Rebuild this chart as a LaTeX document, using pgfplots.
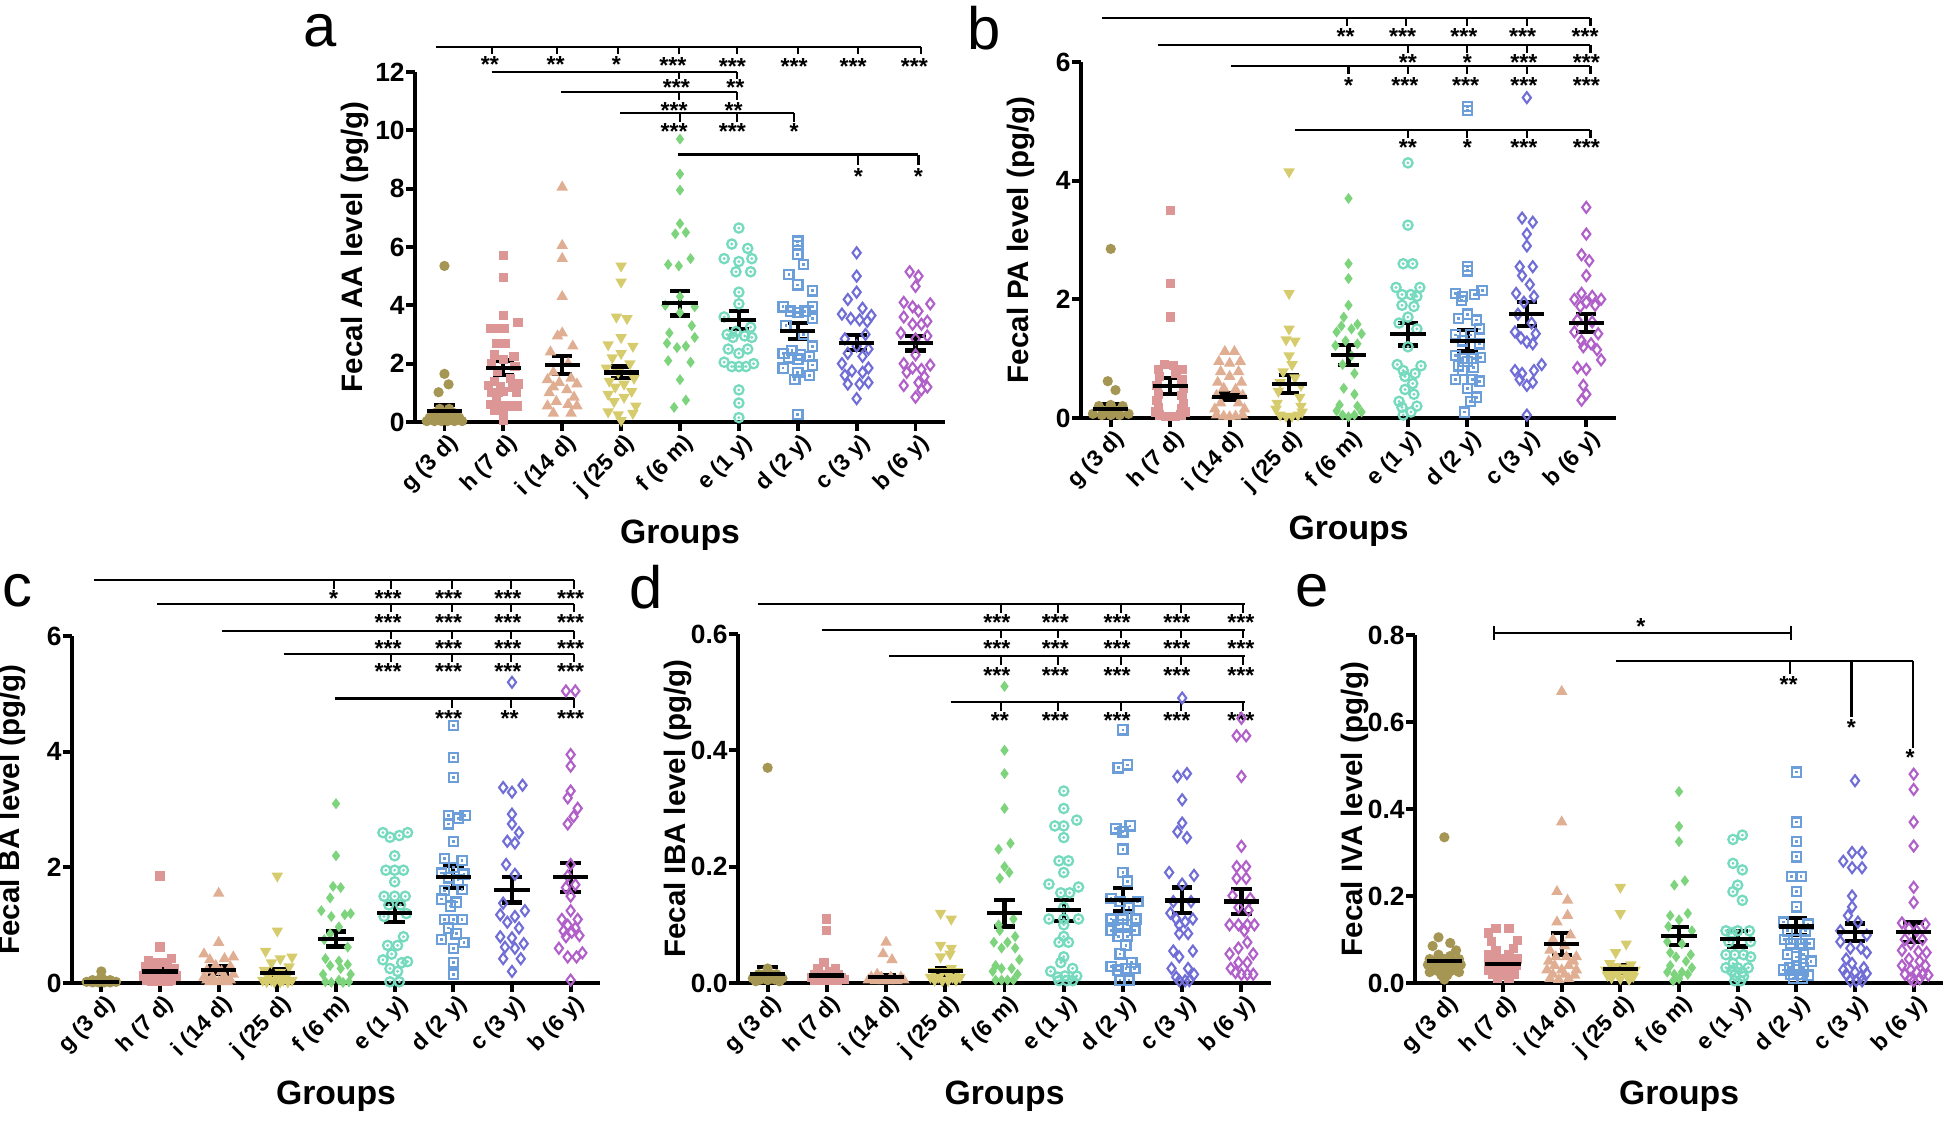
\documentclass[border=0pt]{standalone}
\usepackage{fontspec}
\setmainfont{Liberation Sans}
\usepackage{pgfplots}
\pgfplotsset{compat=1.18}
\definecolor{cg}{RGB}{166,150,84}
\definecolor{ch}{RGB}{220,150,150}
\definecolor{ci}{RGB}{224,174,146}
\definecolor{cj}{RGB}{214,204,110}
\definecolor{cf}{RGB}{125,212,125}
\definecolor{ce}{RGB}{118,218,190}
\definecolor{cd}{RGB}{108,158,218}
\definecolor{cc}{RGB}{112,110,214}
\definecolor{cb}{RGB}{176,96,200}
\pgfdeclareplotmark{odot}{%
  \pgfpathcircle{\pgfpointorigin}{0.8\pgfplotmarksize}\pgfusepathqstroke
  \pgfpathcircle{\pgfpointorigin}{0.28\pgfplotmarksize}\pgfusepathqfill}
\pgfdeclareplotmark{osq}{%
  \pgfpathrectangle{\pgfpoint{-0.85\pgfplotmarksize}{-0.85\pgfplotmarksize}}{\pgfpoint{1.7\pgfplotmarksize}{1.7\pgfplotmarksize}}\pgfusepathqstroke
  \pgfpathrectangle{\pgfpoint{-0.25\pgfplotmarksize}{-0.25\pgfplotmarksize}}{\pgfpoint{0.5\pgfplotmarksize}{0.5\pgfplotmarksize}}\pgfusepathqfill}
\pgfplotsset{
  panel/.style={
    scale only axis, width=5.3cm, height=3.5cm,
    xmin=-0.5, xmax=8.5, ymin=0,
    axis x line*=bottom, axis y line*=left,
    axis line style={line width=1.2pt},
    tick align=outside, major tick length=0.9mm,
    tick style={line width=1.1pt, black},
    xtick={0,...,8},
    xticklabels={g (3 d), h (7 d), i (14 d), j (25 d), f (6 m), e (1 y), d (2 y), c (3 y), b (6 y)},
    x tick label style={rotate=45, anchor=east, xshift=0.5mm, yshift=-1.35mm, font=\bfseries\fontsize{6.5}{7}\selectfont, inner sep=1pt},
    y tick label style={xshift=1.1mm, font=\bfseries\fontsize{7.5}{8}\selectfont},
    /pgf/number format/assume math mode=true,
    clip=false,
    xlabel={Groups},
    every axis x label/.style={at={(axis description cs:0.5,0)}, anchor=center, yshift=-11.3mm, font=\bfseries\fontsize{9.6}{11}\selectfont},
    every axis y label/.style={at={(axis description cs:0,0.5)}, xshift=-6.0mm, rotate=90, anchor=center, font=\bfseries\fontsize{8.4}{9}\selectfont},
  },
  gA/.style={only marks, mark=*, mark size=1.25pt, color=cg},
  hA/.style={only marks, mark=square*, mark size=1.12pt, color=ch},
  iA/.style={only marks, mark=triangle*, mark size=1.5pt, color=ci},
  jA/.style={only marks, mark=triangle*, mark size=1.5pt, mark options={rotate=180}, color=cj},
  fA/.style={only marks, mark=diamond*, mark size=1.25pt, color=cf},
  eA/.style={only marks, mark=odot, mark size=1.65pt, color=ce, mark options={line width=0.65pt}},
  dA/.style={only marks, mark=osq, mark size=1.55pt, color=cd, mark options={line width=0.65pt}},
  cA/.style={only marks, mark=diamond, mark size=1.55pt, color=cc, mark options={line width=0.6pt}},
  bA/.style={only marks, mark=diamond, mark size=1.55pt, color=cb, mark options={line width=0.6pt}},
  meanbar/.style={only marks, black, mark=-, mark size=5.0pt, mark options={line width=1.2pt},
    error bars/.cd, y dir=both, y explicit, error bar style={line width=1.2pt, black},
    error mark options={rotate=90, line width=1.2pt, mark size=2.9pt, black}},
  br/.style={black, line width=0.6pt, unbounded coords=jump, mark=none},
}
\tikzset{st/.style={font=\bfseries\fontsize{6.6}{7}\selectfont, inner sep=0pt, yshift=-1.2pt}}
\begin{document}
\begin{tikzpicture}[x=1cm,y=1cm]
\useasboundingbox (0,0) rectangle (19.44,11.21);
\node[font=\fontsize{17}{18}\selectfont] at (3.20,10.90) {a};
\node[font=\fontsize{17}{18}\selectfont] at (9.84,10.93) {b};
\node[font=\fontsize{17}{18}\selectfont] at (0.17,5.30) {c};
\node[font=\fontsize{17}{18}\selectfont] at (6.46,5.34) {d};
\node[font=\fontsize{17}{18}\selectfont] at (13.12,5.30) {e};

% ---------------- panel a
\begin{scope}[xshift=4.15cm, yshift=6.99cm]
\begin{axis}[panel, anchor=south west, ymax=12, ytick={0,2,4,6,8,10,12}, ylabel={Fecal AA level (pg/g)}]
\addplot[gA] coordinates {(0,5.35)(0,1.65)(0.07,1.29)(-0.1,1.02)(-0.08,0.45)(0.08,0.45)(-0.17,0.3)(0,0.3)(0.17,0.3)(-0.25,0.15)(-0.08,0.15)(0.08,0.15)(0.25,0.15)(-0.3,0.03)(-0.17,0.03)(-0.05,0.03)(0.05,0.03)(0.17,0.03)(0.3,0.03)};
\addplot[hA] coordinates {(1,5.7)(1,4.95)(1,3.64)(1.25,3.4)(0.78,3.2)(0.9,3.2)(1.02,3.2)(0.88,2.7)(1.03,2.7)(0.85,2.3)(1.18,2.25)(1,2.15)(0.8,2.0)(1.2,1.9)(0.9,1.75)(1.12,1.5)(0.85,1.4)(1.25,1.3)(0.75,1.25)(0.95,1.2)(1.15,1.2)(1,1.05)(0.8,1.0)(0.92,1.0)(1.22,1.0)(0.88,0.85)(0.78,0.6)(0.88,0.55)(1,0.55)(1.12,0.55)(1.24,0.55)(0.85,0.4)(1,0.3)(1,0.05)};
\addplot[iA] coordinates {(2,8.05)(2,6.05)(2,5.6)(2,4.3)(2,3.05)(1.92,2.95)(2.18,2.6)(1.8,2.4)(2.1,2.0)(1.85,1.7)(2.15,1.5)(1.75,1.45)(1.95,1.35)(2.25,1.3)(1.85,1.2)(2.08,1.1)(1.78,1.0)(2.2,0.85)(1.9,0.7)(2.1,0.6)(1.75,0.55)(2.25,0.55)(1.85,0.3)(2.15,0.3)};
\addplot[jA] coordinates {(3,5.35)(3,4.8)(2.92,3.6)(3.1,3.55)(3,2.9)(2.78,2.65)(3.2,2.6)(3,2.35)(2.85,2.2)(3.15,2.0)(2.75,1.85)(2.95,1.7)(3.22,1.5)(2.8,1.4)(3.05,1.3)(2.9,1.2)(3.18,1.05)(2.78,0.95)(3.05,0.85)(2.88,0.7)(3.25,0.55)(2.78,0.35)(3.2,0.3)(2.95,0.25)(3,0.05)};
\addplot[fA] coordinates {(4,9.7)(4,8.5)(4,7.95)(4,6.8)(3.92,6.45)(4.1,6.5)(4.18,5.6)(3.8,5.4)(3.98,5.35)(4,4.3)(3.75,4.0)(4.25,3.95)(4,3.75)(4.2,3.3)(3.82,3.05)(4.25,2.9)(3.78,2.7)(3.95,2.55)(4.1,2.6)(3.8,2.1)(4.18,2.05)(4,1.45)(4.1,0.75)(3.9,0.5)};
\addplot[eA] coordinates {(5,6.65)(4.88,6.1)(5.15,5.95)(4.75,5.6)(5,5.5)(5.22,5.6)(4.95,5.15)(5.2,5.15)(5,4.45)(5,4.05)(4.75,3.6)(5.2,3.25)(4.95,3.1)(4.8,3.0)(5.1,2.95)(4.9,2.9)(5.22,2.9)(4.82,2.5)(5.15,2.5)(5,2.35)(4.75,2.05)(5.25,2.0)(4.88,1.9)(5,1.9)(5.12,1.9)(5,1.1)(5,0.65)(5,0.15)};
\addplot[dA] coordinates {(6,6.2)(6,6.05)(6,5.75)(6.1,5.4)(5.85,5.05)(6,4.7)(6.25,4.5)(5.75,3.95)(6.25,3.95)(5.88,3.8)(6.12,3.8)(6,3.75)(6.25,3.55)(5.8,3.3)(6.1,3.0)(6.25,2.6)(5.9,2.45)(5.75,2.35)(6.05,2.3)(6.2,2.25)(5.85,2.2)(6,2.15)(6.25,1.95)(5.75,1.85)(6,1.7)(6.2,1.6)(5.95,1.45)(6,0.25)};
\addplot[cA] coordinates {(7,5.8)(7,5.0)(7,4.45)(6.85,4.2)(7.1,3.9)(6.75,3.7)(7.25,3.65)(6.9,3.55)(7.05,3.5)(7.18,3.45)(7.15,3.0)(6.8,2.85)(7,2.6)(7.2,2.5)(6.85,2.35)(7.1,2.25)(6.75,2.0)(7.2,1.85)(6.92,1.75)(7.1,1.7)(6.8,1.6)(7.2,1.35)(6.85,1.3)(7.05,1.3)(7,0.8)};
\addplot[bA] coordinates {(7.9,5.15)(8.05,5.0)(8,4.65)(7.8,4.1)(7.95,3.95)(8.25,4.05)(8.05,3.8)(7.8,3.6)(8.2,3.45)(7.95,3.35)(8.1,3.35)(7.75,3.05)(8.2,2.95)(8,2.85)(8,2.3)(7.8,2.0)(8.25,1.95)(7.95,1.85)(8.1,1.8)(7.85,1.7)(8.15,1.55)(8.05,1.35)(7.8,1.25)(8.2,1.2)(8.1,1.1)(8,0.85)};
\addplot[meanbar] coordinates {(0,0.38) +- (0,0.2) (1,1.86) +- (0,0.25) (2,1.95) +- (0,0.3) (3,1.7) +- (0,0.2) (4,4.07) +- (0,0.42) (5,3.5) +- (0,0.3) (6,3.12) +- (0,0.27) (7,2.72) +- (0,0.25) (8,2.7) +- (0,0.25)};
\addplot[br] coordinates {(-0.14,12.86)(8.1,12.86)(0,nan)
 (0.8,12.86)(0.8,12.6)(0,nan)(1.91,12.86)(1.91,12.6)(0,nan)(2.94,12.86)(2.94,12.6)(0,nan)(3.98,12.86)(3.98,12.6)(0,nan)(4.97,12.86)(4.97,12.6)(0,nan)(6.0,12.86)(6.0,12.6)(0,nan)(7.03,12.86)(7.03,12.6)(0,nan)(8.1,12.86)(8.1,12.6)(0,nan)
 (0.8,12.0)(4.97,12.0)(0,nan)(3.98,12.0)(3.98,11.75)(0,nan)(4.97,12.0)(4.97,11.75)(0,nan)
 (1.98,11.3)(4.97,11.3)(0,nan)(3.98,11.3)(3.98,11.03)(0,nan)(4.97,11.3)(4.97,11.03)(0,nan)
 (2.98,10.58)(5.94,10.58)(0,nan)(4.0,10.58)(4.0,10.3)(0,nan)(4.97,10.58)(4.97,10.3)(0,nan)(5.94,10.58)(5.94,10.3)(0,nan)
 (3.96,9.17)(8.05,9.17)(0,nan)(7.03,9.17)(7.03,8.8)(0,nan)(8.05,9.17)(8.05,8.8)};
\node[st] at (axis cs:0.77,12.4) {**};
\node[st] at (axis cs:1.89,12.4) {**};
\node[st] at (axis cs:2.92,12.4) {*};
\node[st] at (axis cs:3.88,12.36) {***};
\node[st] at (axis cs:4.89,12.34) {***};
\node[st] at (axis cs:5.94,12.34) {***};
\node[st] at (axis cs:6.94,12.34) {***};
\node[st] at (axis cs:7.98,12.34) {***};
\node[st] at (axis cs:3.94,11.6) {***};
\node[st] at (axis cs:4.94,11.6) {**};
\node[st] at (axis cs:3.9,10.84) {***};
\node[st] at (axis cs:4.91,10.84) {**};
\node[st] at (axis cs:3.9,10.12) {***};
\node[st] at (axis cs:4.89,10.12) {***};
\node[st] at (axis cs:5.94,10.12) {*};
\node[st] at (axis cs:7.03,8.57) {*};
\node[st] at (axis cs:8.05,8.57) {*};
\end{axis}
\end{scope}

% ---------------- panel b
\begin{scope}[xshift=10.81cm, yshift=7.03cm]
\begin{axis}[panel, anchor=south west, height=3.56cm, width=5.35cm, ymax=6, ytick={0,2,4,6}, ylabel={Fecal PA level (pg/g)}]
\addplot[gA] coordinates {(0,2.85)(-0.05,0.62)(0.08,0.47)(-0.2,0.2)(0,0.22)(0.2,0.2)(-0.3,0.07)(-0.15,0.05)(0,0.05)(0.15,0.05)(0.3,0.07)(-0.08,0.12)(0.08,0.12)};
\addplot[hA] coordinates {(1,3.5)(1,2.27)(1,1.7)(0.9,0.9)(1.05,0.88)(0.8,0.82)(1.2,0.82)(1.1,0.75)(0.82,0.7)(1.2,0.65)(0.78,0.55)(1.22,0.5)(0.8,0.4)(1.2,0.38)(0.78,0.3)(1.22,0.25)(0.8,0.18)(1.2,0.15)(0.75,0.1)(1.25,0.1)(0.82,0.05)(0.92,0.03)(1,0.02)(1.08,0.03)(1.18,0.05)};
\addplot[iA] coordinates {(1.92,1.12)(2.08,1.12)(1.82,0.95)(2.18,0.95)(2,0.92)(1.85,0.78)(2.15,0.78)(2,0.7)(1.8,0.6)(2.2,0.6)(1.9,0.5)(2.1,0.48)(1.78,0.38)(2.22,0.38)(1.85,0.25)(2.15,0.25)(1.75,0.15)(2.25,0.15)(1.78,0.05)(1.9,0.03)(2,0.02)(2.1,0.03)(2.22,0.05)};
\addplot[jA] coordinates {(3,4.15)(3,2.1)(3,1.5)(2.95,1.32)(3.1,1.3)(3,1.05)(3.05,0.9)(2.9,0.78)(3.1,0.68)(2.85,0.6)(3.2,0.55)(2.82,0.45)(3.18,0.35)(2.8,0.25)(3.2,0.2)(2.78,0.15)(3.22,0.1)(2.85,0.05)(2.95,0.03)(3.05,0.03)(3.15,0.05)};
\addplot[fA] coordinates {(4,3.7)(4,2.6)(4,2.35)(4,1.9)(3.92,1.7)(4.15,1.58)(3.88,1.55)(4.05,1.5)(3.8,1.45)(4.22,1.42)(3.95,1.3)(4.15,1.25)(3.78,1.22)(4.05,1.05)(3.9,0.9)(4.1,0.75)(3.92,0.5)(4.1,0.4)(3.85,0.22)(4.15,0.2)(3.8,0.12)(4.22,0.1)(3.9,0.05)(4.1,0.05)(4,0.02)};
\addplot[eA] coordinates {(5,4.3)(5,3.25)(4.92,2.6)(5.08,2.6)(4.8,2.2)(5.2,2.2)(4.9,2.08)(5.05,2.08)(5.15,2.05)(4.9,1.9)(5.1,1.88)(5,1.7)(4.85,1.6)(5.15,1.5)(5,1.2)(4.82,0.9)(5.22,0.88)(4.92,0.8)(5.12,0.75)(4.95,0.7)(5.08,0.58)(4.95,0.48)(5.1,0.4)(4.85,0.28)(4.9,0.18)(5.15,0.2)(5.05,0.1)(4.92,0.05)};
\addplot[dA] coordinates {(6,5.25)(6,5.18)(6,2.55)(6,2.48)(5.8,2.1)(6.25,2.15)(5.92,2.05)(6.12,2.08)(5.9,1.98)(6,1.75)(5.85,1.68)(6.15,1.65)(6.2,1.5)(5.8,1.4)(6.05,1.4)(5.92,1.3)(6.2,1.25)(5.8,1.05)(5.92,1.0)(6.1,1.0)(6.22,1.02)(6,0.95)(5.85,0.88)(6.1,0.85)(5.92,0.8)(5.8,0.65)(6.08,0.65)(6.2,0.62)(6,0.5)(6.15,0.35)(6.05,0.28)(5.95,0.1)};
\addplot[cA] coordinates {(7,5.4)(6.92,3.37)(7.1,3.3)(7,3.1)(7,2.9)(6.88,2.55)(7.1,2.55)(6.92,2.4)(7.05,2.25)(6.82,2.1)(7.12,2.05)(6.95,1.95)(6.85,1.75)(7.08,1.6)(6.8,1.45)(7.15,1.42)(6.9,1.35)(7,1.28)(7.1,1.25)(7.25,0.9)(6.8,0.8)(6.92,0.75)(7.12,0.8)(6.88,0.65)(7.1,0.6)(7,0.55)(7,0.05)};
\addplot[bA] coordinates {(8,3.55)(8,3.1)(7.92,2.75)(8.05,2.65)(8,2.4)(7.92,2.1)(8.1,2.05)(7.8,2.0)(8.25,2.0)(8,1.95)(7.9,1.88)(8.15,1.9)(7.85,1.65)(8.1,1.62)(7.8,1.45)(8.2,1.42)(7.92,1.3)(8.08,1.25)(7.95,1.2)(8.18,1.15)(8.25,0.98)(7.85,0.85)(8,0.82)(7.95,0.55)(8,0.4)(7.92,0.3)};
\addplot[meanbar] coordinates {(0,0.15) +- (0,0.09) (1,0.54) +- (0,0.14) (2,0.36) +- (0,0.06) (3,0.57) +- (0,0.15) (4,1.06) +- (0,0.17) (5,1.41) +- (0,0.19) (6,1.3) +- (0,0.18) (7,1.75) +- (0,0.2) (8,1.6) +- (0,0.15)};
\addplot[br] coordinates {(-0.14,6.74)(8.07,6.74)(0,nan)
 (3.98,6.74)(3.98,6.6)(0,nan)(4.96,6.74)(4.96,6.6)(0,nan)(6.0,6.74)(6.0,6.6)(0,nan)(7.0,6.74)(7.0,6.6)(0,nan)(8.07,6.74)(8.07,6.6)(0,nan)
 (0.79,6.29)(8.07,6.29)(0,nan)(5.0,6.29)(5.0,6.15)(0,nan)(6.0,6.29)(6.0,6.15)(0,nan)(7.0,6.29)(7.0,6.15)(0,nan)(8.07,6.29)(8.07,6.15)(0,nan)
 (2.03,5.93)(8.07,5.93)(0,nan)(4.0,5.93)(4.0,5.79)(0,nan)(5.0,5.93)(5.0,5.79)(0,nan)(6.0,5.93)(6.0,5.79)(0,nan)(7.0,5.93)(7.0,5.79)(0,nan)(8.07,5.93)(8.07,5.79)(0,nan)
 (3.1,4.86)(8.07,4.86)(0,nan)(5.0,4.86)(5.0,4.72)(0,nan)(6.0,4.86)(6.0,4.72)(0,nan)(7.0,4.86)(7.0,4.72)(0,nan)(8.07,4.86)(8.07,4.72)};
\node[st] at (axis cs:3.95,6.5) {**};
\node[st] at (axis cs:4.91,6.5) {***};
\node[st] at (axis cs:5.94,6.5) {***};
\node[st] at (axis cs:6.93,6.5) {***};
\node[st] at (axis cs:7.98,6.5) {***};
\node[st] at (axis cs:5.0,6.07) {**};
\node[st] at (axis cs:6.0,6.07) {*};
\node[st] at (axis cs:6.95,6.07) {***};
\node[st] at (axis cs:8.0,6.07) {***};
\node[st] at (axis cs:4.0,5.68) {*};
\node[st] at (axis cs:4.95,5.68) {***};
\node[st] at (axis cs:5.97,5.68) {***};
\node[st] at (axis cs:6.95,5.68) {***};
\node[st] at (axis cs:8.0,5.68) {***};
\node[st] at (axis cs:5.0,4.63) {**};
\node[st] at (axis cs:6.0,4.63) {*};
\node[st] at (axis cs:6.95,4.63) {***};
\node[st] at (axis cs:8.0,4.63) {***};
\end{axis}
\end{scope}

% ---------------- panel c
\begin{scope}[xshift=0.72cm, yshift=1.38cm]
\begin{axis}[panel, anchor=south west, height=3.47cm, width=5.28cm, ymax=6, ytick={0,2,4,6}, ylabel={Fecal BA level (pg/g)}]
\addplot[gA] coordinates {(0,0.2)(0,0.1)(-0.15,0.05)(-0.05,0.05)(0.05,0.05)(0.15,0.05)(-0.25,0.02)(-0.15,0.01)(-0.05,0.01)(0.05,0.01)(0.15,0.01)(0.25,0.02)};
\addplot[hA] coordinates {(1,1.85)(1,0.62)(1.2,0.42)(0.8,0.38)(0.9,0.35)(1.02,0.35)(1.12,0.35)(0.75,0.28)(1.25,0.25)(0.82,0.2)(0.95,0.2)(1.15,0.2)(0.72,0.12)(0.88,0.12)(1.1,0.12)(1.28,0.12)(0.78,0.05)(0.9,0.05)(1.05,0.05)(1.2,0.05)(0.85,0.02)(1,0.02)(1.15,0.02)};
\addplot[iA] coordinates {(2,1.55)(2,0.7)(1.75,0.5)(2.25,0.45)(1.85,0.4)(2.1,0.42)(1.95,0.3)(2.2,0.28)(1.8,0.22)(2.05,0.2)(2.25,0.15)(1.75,0.1)(1.9,0.1)(2.1,0.1)(1.8,0.05)(1.92,0.05)(2.05,0.05)(2.2,0.05)(1.85,0.02)(2,0.02)(2.15,0.02)};
\addplot[jA] coordinates {(3,1.85)(3,0.9)(2.8,0.55)(3.25,0.45)(3.05,0.42)(2.9,0.35)(3.2,0.28)(2.78,0.22)(3.05,0.18)(2.85,0.12)(3,0.1)(3.15,0.1)(2.75,0.05)(2.9,0.05)(3.1,0.05)(3.25,0.05)(2.82,0.02)(2.95,0.02)(3.05,0.02)(3.18,0.02)};
\addplot[fA] coordinates {(4,3.1)(4,2.2)(3.95,1.67)(4.08,1.65)(3.9,1.47)(3.75,1.25)(4.25,1.2)(3.92,1.15)(4.15,1.18)(4.05,0.97)(3.9,0.85)(3.8,0.75)(4.2,0.62)(3.82,0.42)(4.05,0.38)(3.9,0.3)(4.2,0.32)(4.08,0.25)(3.78,0.15)(4.25,0.15)(4.05,0.05)(3.82,0.02)(3.92,0.01)(4.12,0.01)(4.22,0.02)};
\addplot[eA] coordinates {(4.8,2.6)(4.92,2.52)(5.08,2.55)(5.22,2.6)(5,2.2)(4.85,1.95)(5,1.95)(5.15,1.95)(5,1.75)(4.82,1.5)(5,1.5)(5.18,1.5)(4.9,1.35)(5.1,1.35)(5.2,1.2)(4.82,1.15)(5.15,0.8)(4.88,0.65)(5.05,0.65)(4.95,0.5)(4.8,0.4)(5.22,0.37)(5.12,0.35)(4.92,0.25)(5.05,0.2)(4.92,0.02)(5.08,0.02)};
\addplot[dA] coordinates {(6,4.45)(6,3.9)(6,3.55)(5.92,2.9)(6.2,2.9)(6.08,2.85)(5.92,2.75)(6,2.45)(5.85,2.15)(6.15,2.12)(6,2.0)(5.8,1.9)(6.18,1.88)(5.92,1.82)(6.08,1.78)(5.85,1.6)(6.15,1.62)(5.8,1.45)(6.05,1.4)(5.95,1.33)(5.85,1.1)(6,1.1)(6.15,1.1)(5.92,0.95)(6.05,0.85)(5.8,0.75)(6.18,0.7)(6,0.6)(6,0.35)(6,0.15)};
\addplot[cA] coordinates {(7,5.2)(6.85,3.38)(7.18,3.42)(7,3.3)(7,2.92)(7,2.75)(7.12,2.6)(6.92,2.45)(7.05,2.42)(6.9,2.05)(7.05,1.88)(6.85,1.38)(7.22,1.25)(6.8,1.18)(7.05,1.15)(6.92,1.05)(7.12,0.95)(6.8,0.8)(7,0.78)(7.2,0.68)(6.88,0.62)(7.05,0.6)(6.85,0.42)(7.15,0.42)(7,0.2)};
\addplot[bA] coordinates {(7.92,5.05)(8.08,5.05)(8,3.95)(8,3.75)(8,3.32)(7.95,3.2)(8.12,3.02)(8.05,2.88)(7.95,2.75)(8,2.05)(7.95,1.85)(8.08,1.7)(7.92,1.65)(8,1.5)(8,1.25)(7.85,1.1)(8.12,1.1)(7.95,1.0)(8.08,0.95)(7.88,0.9)(8.02,0.88)(7.92,0.8)(8.15,0.82)(7.8,0.6)(8.2,0.52)(7.95,0.45)(8.1,0.45)(8,0.05)};
\addplot[meanbar] coordinates {(0,0.02) +- (0,0.02) (1,0.2) +- (0,0.07) (2,0.22) +- (0,0.07) (3,0.17) +- (0,0.07) (4,0.76) +- (0,0.13) (5,1.21) +- (0,0.155) (6,1.83) +- (0,0.19) (7,1.61) +- (0,0.22) (8,1.83) +- (0,0.25)};
\addplot[br] coordinates {(-0.13,6.97)(8.06,6.97)(0,nan)
 (3.96,6.97)(3.96,6.81)(0,nan)(4.94,6.97)(4.94,6.81)(0,nan)(5.98,6.97)(5.98,6.81)(0,nan)(6.99,6.97)(6.99,6.81)(0,nan)(8.06,6.97)(8.06,6.81)(0,nan)
 (0.95,6.55)(8.06,6.55)(0,nan)(4.94,6.55)(4.94,6.41)(0,nan)(5.98,6.55)(5.98,6.41)(0,nan)(6.99,6.55)(6.99,6.41)(0,nan)(8.06,6.55)(8.06,6.41)(0,nan)
 (2.05,6.09)(8.06,6.09)(0,nan)(4.94,6.09)(4.94,5.95)(0,nan)(5.98,6.09)(5.98,5.95)(0,nan)(6.99,6.09)(6.99,5.95)(0,nan)(8.06,6.09)(8.06,5.95)(0,nan)
 (3.11,5.69)(8.06,5.69)(0,nan)(4.94,5.69)(4.94,5.55)(0,nan)(5.98,5.69)(5.98,5.55)(0,nan)(6.99,5.69)(6.99,5.55)(0,nan)(8.06,5.69)(8.06,5.55)(0,nan)
 (3.99,4.92)(8.06,4.92)(0,nan)(5.98,4.92)(5.98,4.75)(0,nan)(6.99,4.92)(6.99,4.75)(0,nan)(8.06,4.92)(8.06,4.75)};
\node[st] at (axis cs:3.96,6.72) {*};
\node[st] at (axis cs:4.89,6.72) {***};
\node[st] at (axis cs:5.92,6.72) {***};
\node[st] at (axis cs:6.93,6.72) {***};
\node[st] at (axis cs:8.0,6.72) {***};
\node[st] at (axis cs:4.89,6.3) {***};
\node[st] at (axis cs:5.92,6.3) {***};
\node[st] at (axis cs:6.93,6.3) {***};
\node[st] at (axis cs:8.0,6.3) {***};
\node[st] at (axis cs:4.89,5.85) {***};
\node[st] at (axis cs:5.92,5.85) {***};
\node[st] at (axis cs:6.93,5.85) {***};
\node[st] at (axis cs:8.0,5.85) {***};
\node[st] at (axis cs:4.89,5.46) {***};
\node[st] at (axis cs:5.92,5.46) {***};
\node[st] at (axis cs:6.93,5.46) {***};
\node[st] at (axis cs:8.0,5.46) {***};
\node[st] at (axis cs:5.92,4.65) {***};
\node[st] at (axis cs:6.96,4.65) {**};
\node[st] at (axis cs:8.0,4.65) {***};
\end{axis}
\end{scope}

% ---------------- panel d
\begin{scope}[xshift=7.38cm, yshift=1.38cm]
\begin{axis}[panel, anchor=south west, height=3.49cm, width=5.33cm, ymax=0.6, ytick={0,0.2,0.4,0.6}, ylabel={Fecal IBA level (pg/g)},
  y tick label style={/pgf/number format/fixed, /pgf/number format/fixed zerofill, /pgf/number format/precision=1}]
\addplot[gA] coordinates {(0,0.37)(0,0.025)(-0.15,0.015)(-0.05,0.015)(0.05,0.015)(0.15,0.015)(-0.25,0.008)(-0.12,0.006)(0,0.005)(0.12,0.006)(0.25,0.008)(-0.2,0.003)(0.2,0.003)};
\addplot[hA] coordinates {(1,0.11)(1,0.09)(0.95,0.035)(0.85,0.025)(1.15,0.025)(1.05,0.02)(0.8,0.015)(0.95,0.015)(1.2,0.015)(0.75,0.01)(0.88,0.01)(1.02,0.01)(1.25,0.01)(0.8,0.005)(0.92,0.004)(1.05,0.004)(1.18,0.005)(1.3,0.006)};
\addplot[iA] coordinates {(2,0.07)(1.95,0.05)(2.1,0.04)(1.85,0.015)(1.75,0.01)(1.92,0.01)(2.08,0.01)(2.25,0.01)(1.7,0.005)(1.82,0.004)(1.95,0.004)(2.05,0.004)(2.18,0.004)(2.3,0.005)};
\addplot[jA] coordinates {(2.92,0.12)(3.1,0.11)(2.92,0.065)(3.1,0.06)(3.08,0.05)(2.92,0.045)(3.1,0.025)(2.8,0.02)(2.95,0.02)(3.2,0.02)(3.05,0.015)(2.75,0.01)(2.88,0.01)(3.12,0.01)(3.25,0.01)(2.82,0.005)(2.95,0.004)(3.05,0.004)(3.18,0.005)};
\addplot[fA] coordinates {(4,0.51)(4,0.4)(4,0.36)(4,0.3)(4.1,0.24)(3.9,0.23)(4,0.2)(4.08,0.19)(3.92,0.18)(4.15,0.11)(3.9,0.1)(3.92,0.09)(4.18,0.08)(3.82,0.07)(4.05,0.07)(3.95,0.06)(4.18,0.06)(4.25,0.04)(3.85,0.03)(3.95,0.025)(4.12,0.025)(3.8,0.02)(4.22,0.015)(3.85,0.005)(3.95,0.005)(4.05,0.005)(4.15,0.005)};
\addplot[eA] coordinates {(5,0.33)(5,0.3)(5.22,0.28)(4.85,0.27)(5,0.27)(5,0.25)(4.92,0.21)(5.08,0.21)(5,0.19)(4.75,0.17)(4.95,0.155)(5.1,0.155)(5.25,0.165)(5,0.13)(4.75,0.11)(5,0.11)(5.25,0.11)(5,0.1)(5,0.08)(4.92,0.07)(5.08,0.07)(5,0.045)(4.95,0.035)(4.78,0.02)(5.15,0.025)(4.9,0.01)(5.02,0.012)(5.22,0.012)(4.92,0.004)(5.05,0.004)(5.15,0.004)};
\addplot[dA] coordinates {(6,0.435)(5.92,0.37)(6.08,0.375)(6.12,0.27)(5.88,0.265)(6,0.26)(6,0.23)(6,0.19)(6.08,0.175)(5.8,0.145)(5.95,0.14)(6.25,0.14)(6.1,0.13)(5.8,0.11)(6,0.11)(6.22,0.11)(5.92,0.1)(6.08,0.1)(5.8,0.09)(6.2,0.09)(5.92,0.08)(6.08,0.08)(6.05,0.065)(5.95,0.05)(6.15,0.035)(5.8,0.028)(5.92,0.022)(6.05,0.025)(6.2,0.025)(5.95,0.005)(6.1,0.005)};
\addplot[cA] coordinates {(7,0.49)(6.92,0.355)(7.08,0.36)(7,0.315)(7,0.275)(6.92,0.26)(7.08,0.25)(6.78,0.19)(7.2,0.185)(7,0.17)(6.85,0.14)(7.15,0.14)(6.8,0.12)(6.9,0.11)(7.05,0.105)(7.18,0.11)(6.95,0.1)(6.95,0.085)(7.1,0.085)(6.85,0.055)(7.18,0.055)(6.95,0.045)(6.82,0.025)(7.1,0.025)(7.2,0.015)(6.9,0.01)(6.95,0.004)(7.05,0.004)(7.12,0.004)};
\addplot[bA] coordinates {(8,0.455)(7.92,0.425)(8.08,0.425)(8,0.355)(8,0.235)(7.92,0.2)(8.08,0.2)(7.92,0.18)(8.08,0.18)(7.85,0.15)(8.15,0.145)(7.95,0.13)(8.12,0.125)(7.8,0.1)(7.95,0.1)(8.1,0.1)(8.22,0.1)(8.05,0.09)(8.1,0.07)(7.95,0.06)(7.8,0.05)(8.2,0.05)(7.95,0.035)(8.1,0.035)(7.82,0.025)(7.9,0.018)(8,0.015)(8.1,0.015)(8.2,0.015)};
\addplot[meanbar] coordinates {(0,0.016) +- (0,0.012) (1,0.013) +- (0,0.005) (2,0.01) +- (0,0.003) (3,0.02) +- (0,0.006) (4,0.12) +- (0,0.023) (5,0.125) +- (0,0.018) (6,0.143) +- (0,0.02) (7,0.142) +- (0,0.022) (8,0.14) +- (0,0.021)};
\addplot[br] coordinates {(-0.17,0.6515)(8.06,0.6515)(0,nan)
 (3.94,0.6515)(3.94,0.636)(0,nan)(4.91,0.6515)(4.91,0.636)(0,nan)(5.96,0.6515)(5.96,0.636)(0,nan)(6.98,0.6515)(6.98,0.636)(0,nan)(8.02,0.6515)(8.02,0.636)(0,nan)
 (0.91,0.607)(8.06,0.607)(0,nan)(3.94,0.607)(3.94,0.593)(0,nan)(4.91,0.607)(4.91,0.593)(0,nan)(5.96,0.607)(5.96,0.593)(0,nan)(6.98,0.607)(6.98,0.593)(0,nan)(8.02,0.607)(8.02,0.593)(0,nan)
 (2.05,0.562)(8.06,0.562)(0,nan)(3.94,0.562)(3.94,0.547)(0,nan)(4.91,0.562)(4.91,0.547)(0,nan)(5.96,0.562)(5.96,0.547)(0,nan)(6.98,0.562)(6.98,0.547)(0,nan)(8.02,0.562)(8.02,0.547)(0,nan)
 (3.09,0.483)(8.06,0.483)(0,nan)(3.94,0.483)(3.94,0.467)(0,nan)(4.91,0.483)(4.91,0.467)(0,nan)(5.96,0.483)(5.96,0.467)(0,nan)(6.98,0.483)(6.98,0.467)(0,nan)(8.02,0.483)(8.02,0.467)};
\node[st] at (axis cs:3.87,0.627) {***};
\node[st] at (axis cs:4.86,0.627) {***};
\node[st] at (axis cs:5.9,0.627) {***};
\node[st] at (axis cs:6.91,0.627) {***};
\node[st] at (axis cs:7.99,0.627) {***};
\node[st] at (axis cs:3.87,0.582) {***};
\node[st] at (axis cs:4.86,0.582) {***};
\node[st] at (axis cs:5.9,0.582) {***};
\node[st] at (axis cs:6.91,0.582) {***};
\node[st] at (axis cs:7.99,0.582) {***};
\node[st] at (axis cs:3.87,0.536) {***};
\node[st] at (axis cs:4.86,0.536) {***};
\node[st] at (axis cs:5.9,0.536) {***};
\node[st] at (axis cs:6.91,0.536) {***};
\node[st] at (axis cs:7.99,0.536) {***};
\node[st] at (axis cs:3.92,0.459) {**};
\node[st] at (axis cs:4.86,0.459) {***};
\node[st] at (axis cs:5.9,0.459) {***};
\node[st] at (axis cs:6.91,0.459) {***};
\node[st] at (axis cs:7.99,0.459) {***};
\end{axis}
\end{scope}

% ---------------- panel e
\begin{scope}[xshift=14.15cm, yshift=1.38cm]
\begin{axis}[panel, anchor=south west, height=3.48cm, width=5.28cm, ymax=0.8, ytick={0,0.2,0.4,0.6,0.8}, ylabel={Fecal IVA level (pg/g)},
  y tick label style={/pgf/number format/fixed, /pgf/number format/fixed zerofill, /pgf/number format/precision=1}]
\addplot[gA] coordinates {(0,0.335)(-0.1,0.105)(0.1,0.092)(-0.2,0.085)(0.2,0.075)(-0.1,0.065)(0.1,0.062)(-0.25,0.055)(0,0.055)(0.25,0.055)(-0.15,0.048)(0.15,0.048)(-0.28,0.042)(-0.05,0.045)(0.05,0.045)(0.28,0.042)(-0.2,0.035)(0,0.035)(0.2,0.035)(-0.12,0.028)(0.12,0.028)(-0.25,0.025)(0.25,0.025)(-0.05,0.018)(0.05,0.018)(0,0.008)};
\addplot[hA] coordinates {(0.88,0.125)(1.1,0.125)(0.75,0.115)(1.25,0.098)(0.8,0.095)(1.18,0.08)(0.88,0.075)(0.75,0.065)(1.1,0.065)(0.85,0.055)(1,0.055)(1.25,0.055)(0.75,0.048)(0.92,0.045)(1.12,0.045)(0.82,0.04)(1.02,0.038)(1.22,0.04)(0.75,0.03)(0.92,0.028)(1.1,0.028)(0.82,0.02)(1,0.018)(1.2,0.02)(0.9,0.01)(1.1,0.01)};
\addplot[iA] coordinates {(2,0.67)(2,0.37)(1.92,0.21)(2.1,0.19)(2.1,0.155)(1.92,0.14)(2.15,0.11)(1.85,0.1)(2.05,0.085)(1.8,0.075)(1.9,0.06)(2.08,0.06)(2.25,0.06)(1.78,0.05)(2.2,0.05)(1.88,0.04)(2.12,0.04)(1.75,0.03)(2,0.03)(2.25,0.03)(1.85,0.02)(2.05,0.02)(2.22,0.018)(1.8,0.01)(1.95,0.008)(2.12,0.01)};
\addplot[jA] coordinates {(3,0.22)(3,0.16)(3.1,0.09)(2.92,0.07)(2.82,0.045)(3.18,0.042)(2.92,0.038)(3.08,0.035)(2.75,0.03)(3,0.03)(3.25,0.03)(2.85,0.025)(3.15,0.025)(2.78,0.018)(2.95,0.02)(3.1,0.02)(3.22,0.015)(2.85,0.012)(3,0.01)(3.15,0.008)};
\addplot[fA] coordinates {(4,0.44)(4,0.36)(4,0.325)(4.1,0.235)(3.92,0.225)(4.15,0.16)(3.85,0.155)(4,0.145)(3.82,0.13)(4.22,0.12)(3.8,0.095)(4.05,0.09)(3.85,0.07)(4.2,0.065)(3.95,0.06)(4.12,0.05)(3.85,0.04)(4.22,0.035)(3.8,0.025)(4.05,0.025)(3.92,0.02)(4.15,0.02)(4,0.01)(3.9,0.005)};
\addplot[eA] coordinates {(5.08,0.34)(4.92,0.33)(4.92,0.275)(5.08,0.26)(5,0.225)(4.92,0.21)(5.08,0.19)(4.8,0.12)(5,0.12)(5.2,0.12)(4.9,0.115)(4.85,0.095)(5.22,0.095)(4.8,0.065)(4.95,0.065)(5.1,0.065)(5.22,0.06)(4.92,0.045)(4.8,0.035)(5,0.035)(5.18,0.035)(4.9,0.028)(5.08,0.025)(4.95,0.018)(5.1,0.015)(4.95,0.005)(5.05,0.005)};
\addplot[dA] coordinates {(6,0.485)(6,0.37)(6,0.325)(6,0.29)(5.92,0.245)(6.08,0.245)(6,0.21)(6,0.175)(5.78,0.14)(6.2,0.135)(5.85,0.12)(6.15,0.12)(5.8,0.1)(6,0.1)(5.9,0.09)(6.1,0.09)(6.22,0.09)(5.85,0.065)(6.12,0.065)(6,0.06)(6.25,0.05)(5.88,0.035)(6.12,0.035)(5.78,0.03)(6,0.03)(5.9,0.02)(6.08,0.02)(6.2,0.018)(5.95,0.01)(6.1,0.01)};
\addplot[cA] coordinates {(7,0.465)(6.95,0.3)(7.12,0.3)(6.8,0.28)(6.95,0.265)(7.12,0.265)(6.95,0.2)(6.95,0.175)(6.88,0.155)(7.05,0.14)(6.75,0.12)(7.2,0.11)(6.75,0.095)(6.92,0.08)(7.1,0.08)(7.2,0.07)(6.85,0.055)(6.95,0.045)(7.15,0.035)(6.8,0.03)(7,0.025)(7.2,0.022)(6.85,0.02)(7.1,0.015)(6.92,0.005)(7.02,0.005)(7.12,0.005)};
\addplot[bA] coordinates {(8,0.48)(8,0.445)(8,0.37)(8,0.315)(8,0.22)(8,0.185)(7.8,0.138)(8.2,0.135)(7.92,0.125)(8.05,0.12)(7.85,0.1)(8.15,0.1)(7.95,0.09)(7.8,0.075)(8.08,0.072)(8.22,0.07)(7.92,0.055)(8.1,0.05)(7.8,0.04)(8.2,0.04)(7.95,0.03)(8.05,0.025)(7.85,0.02)(8.15,0.02)(8.25,0.018)(7.95,0.01)(8.1,0.01)(8,0.005)};
\addplot[meanbar] coordinates {(0,0.05) +- (0,0.01) (1,0.044) +- (0,0.005) (2,0.09) +- (0,0.025) (3,0.032) +- (0,0.008) (4,0.108) +- (0,0.02) (5,0.102) +- (0,0.018) (6,0.13) +- (0,0.02) (7,0.117) +- (0,0.02) (8,0.117) +- (0,0.022)};
\addplot[br] coordinates {(0.85,0.805)(5.91,0.805)(0,nan)(0.85,0.82)(0.85,0.789)(0,nan)(5.91,0.82)(5.91,0.789)(0,nan)
 (2.93,0.741)(7.99,0.741)(0,nan)(5.89,0.741)(5.89,0.71)(0,nan)(6.94,0.741)(6.94,0.611)(0,nan)(7.99,0.741)(7.99,0.541)};
\node[st] at (axis cs:3.35,0.829) {*};
\node[st] at (axis cs:5.87,0.696) {**};
\node[st] at (axis cs:6.94,0.598) {*};
\node[st] at (axis cs:7.94,0.529) {*};
\end{axis}
\end{scope}
\end{tikzpicture}
\end{document}
